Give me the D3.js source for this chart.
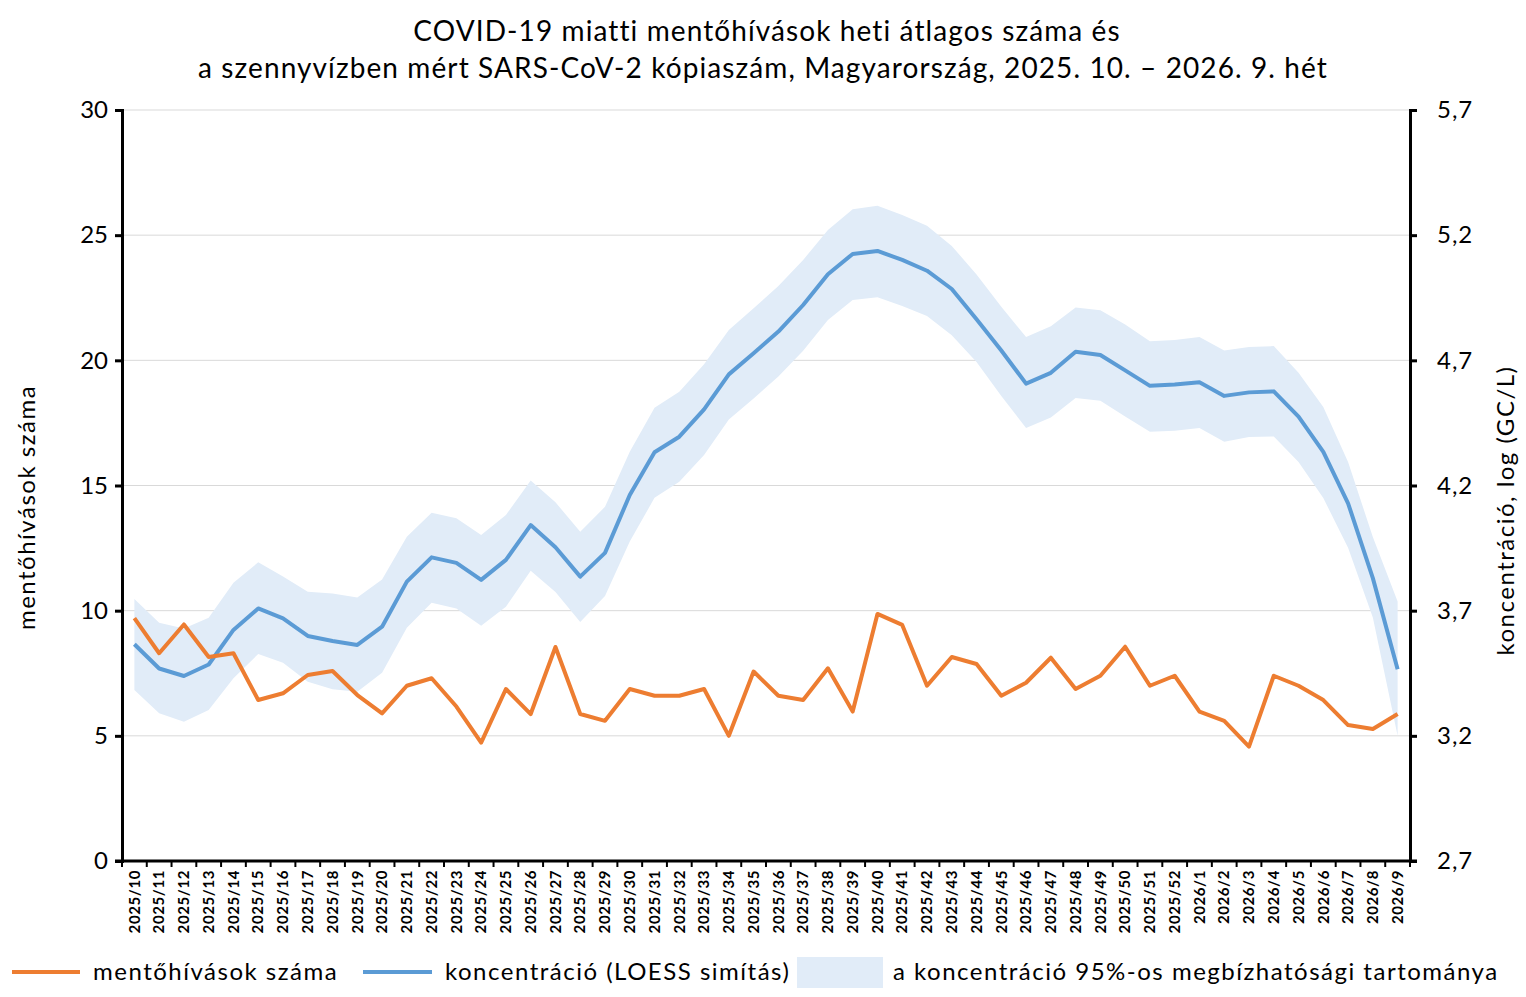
<!DOCTYPE html>
<html>
<head>
<meta charset="utf-8">
<script src="https://cdn.jsdelivr.net/npm/d3@7"></script>
<style>
  body { margin: 0; background: #fff; }
  svg { display: block; font-family: Lato, "Open Sans", sans-serif; }
</style>
</head>
<body>
<svg id="chart" width="1526" height="997"></svg>
<script>
// weeks (categories)
const weeks = [];
for (let w = 10; w <= 52; w++) weeks.push("2025/" + w);
for (let w = 1; w <= 9; w++) weeks.push("2026/" + w);

// ambulance calls, weekly average (left axis)
const calls = [9.7, 8.3, 9.45, 8.15, 8.3, 6.43, 6.7, 7.43, 7.59, 6.63,
  5.9, 7.0, 7.3, 6.17, 4.73, 6.87, 5.87, 8.55, 5.87, 5.6,
  6.87, 6.6, 6.6, 6.87, 5.0, 7.57, 6.6, 6.43, 7.7, 5.97,
  9.87, 9.43, 7.0, 8.15, 7.87, 6.6, 7.12, 8.12, 6.87, 7.4,
  8.56, 7.0, 7.4, 5.97, 5.6, 4.57, 7.4, 7.0, 6.43, 5.43,
  5.27, 5.87];

// concentration, log (GC/L), LOESS smoothed (right axis)
const conc = [3.566, 3.469, 3.439, 3.485, 3.623, 3.709, 3.669, 3.599, 3.579, 3.563,
  3.636, 3.816, 3.913, 3.891, 3.823, 3.903, 4.042, 3.953, 3.836, 3.931,
  4.162, 4.333, 4.395, 4.504, 4.644, 4.728, 4.815, 4.921, 5.044, 5.125,
  5.137, 5.101, 5.058, 4.985, 4.864, 4.739, 4.607, 4.650, 4.734, 4.721,
  4.660, 4.598, 4.603, 4.612, 4.558, 4.572, 4.576, 4.475, 4.334, 4.129,
  3.830, 3.466];

// 95% confidence band
const concHigh = [3.747, 3.652, 3.629, 3.672, 3.812, 3.893, 3.836, 3.776, 3.769, 3.753,
  3.825, 3.995, 4.091, 4.069, 4.002, 4.082, 4.220, 4.133, 4.015, 4.115,
  4.335, 4.511, 4.575, 4.684, 4.821, 4.908, 4.997, 5.101, 5.221, 5.304,
  5.318, 5.281, 5.238, 5.157, 5.043, 4.914, 4.793, 4.836, 4.911, 4.900,
  4.843, 4.776, 4.781, 4.793, 4.739, 4.753, 4.757, 4.650, 4.514, 4.294,
  3.994, 3.737];
const concLow = [3.383, 3.290, 3.256, 3.303, 3.430, 3.527, 3.492, 3.416, 3.386, 3.376,
  3.452, 3.632, 3.732, 3.709, 3.640, 3.716, 3.859, 3.775, 3.655, 3.759,
  3.976, 4.151, 4.215, 4.322, 4.464, 4.548, 4.635, 4.738, 4.861, 4.941,
  4.952, 4.917, 4.877, 4.800, 4.693, 4.558, 4.430, 4.472, 4.550, 4.539,
  4.476, 4.415, 4.419, 4.430, 4.375, 4.394, 4.396, 4.294, 4.150, 3.951,
  3.673, 3.200];

const leftTicks = [0, 5, 10, 15, 20, 25, 30];
const rightTicks = [2.7, 3.2, 3.7, 4.2, 4.7, 5.2, 5.7];

const margin = { top: 110, right: 116, bottom: 136, left: 122 };
const W = 1526, H = 997;
const svg = d3.select("#chart");

const x = d3.scaleBand().domain(weeks).range([margin.left, W - margin.right]);
const cx = d => x(d) + x.bandwidth() / 2;
const yL = d3.scaleLinear().domain([0, 30]).range([H - margin.bottom, margin.top]);
const yR = d3.scaleLinear().domain([2.7, 5.7]).range([H - margin.bottom, margin.top]);

const ORANGE = "#ED7D31", BLUE = "#5B9BD5", BAND = "#E1ECF8";

// gridlines
svg.append("g")
  .selectAll("line")
  .data(leftTicks.slice(1))
  .enter().append("line")
  .attr("x1", margin.left).attr("x2", W - margin.right)
  .attr("y1", d => yL(d)).attr("y2", d => yL(d))
  .attr("stroke", "#d9d9d9").attr("stroke-width", 1);

// confidence band
const area = d3.area()
  .x((d, i) => cx(weeks[i]))
  .y0((d, i) => yR(concLow[i]))
  .y1(d => yR(d));
svg.append("path").datum(concHigh)
  .attr("d", area).attr("fill", BAND);

// lines
const lineR = d3.line().x((d, i) => cx(weeks[i])).y(d => yR(d));
const lineL = d3.line().x((d, i) => cx(weeks[i])).y(d => yL(d));

svg.append("path").datum(conc)
  .attr("d", lineR).attr("fill", "none")
  .attr("stroke", BLUE).attr("stroke-width", 4).attr("stroke-linejoin", "round");

svg.append("path").datum(calls)
  .attr("d", lineL).attr("fill", "none")
  .attr("stroke", ORANGE).attr("stroke-width", 4).attr("stroke-linejoin", "round");

// axes
const leftAxis = svg.append("g")
  .attr("transform", `translate(${margin.left},0)`)
  .call(d3.axisLeft(yL).tickValues(leftTicks).tickSize(7).tickPadding(7).tickFormat(d3.format("d")));
const rightAxis = svg.append("g")
  .attr("transform", `translate(${W - margin.right},0)`)
  .call(d3.axisRight(yR).tickValues(rightTicks).tickSize(7).tickPadding(20)
    .tickFormat(d => d3.format(".1f")(d).replace(".", ",")));

[leftAxis, rightAxis].forEach(a => {
  a.select(".domain").attr("stroke", "#000").attr("stroke-width", 3);
  a.selectAll(".tick line").attr("stroke", "#000").attr("stroke-width", 3);
  a.selectAll(".tick text").attr("font-size", 24).attr("fill", "#000")
    .style("font-family", "Lato, sans-serif");
});
rightAxis.selectAll(".tick text").attr("letter-spacing", 1);

// bottom axis: labels at category centers, ticks at boundaries
const bottom = svg.append("g")
  .attr("transform", `translate(0,${H - margin.bottom})`)
  .call(d3.axisBottom(x).tickSize(0).tickPadding(0));
bottom.select(".domain").remove();
bottom.selectAll(".tick text")
  .attr("transform", "rotate(-90)")
  .attr("text-anchor", "end")
  .attr("x", -9).attr("y", 0).attr("dy", "0.35em")
  .attr("font-size", 15).attr("font-weight", "bold").attr("fill", "#000")
  .attr("letter-spacing", 0.6)
  .style("font-family", "Lato, sans-serif");

const bounds = weeks.map(d => x(d)).concat([W - margin.right]);
svg.append("g").selectAll("line")
  .data(bounds).enter().append("line")
  .attr("x1", d => d).attr("x2", d => d)
  .attr("y1", H - margin.bottom).attr("y2", H - margin.bottom + 6)
  .attr("stroke", "#000").attr("stroke-width", 2);
svg.append("line")
  .attr("x1", margin.left - 7).attr("x2", W - margin.right + 7)
  .attr("y1", H - margin.bottom).attr("y2", H - margin.bottom)
  .attr("stroke", "#000").attr("stroke-width", 3);

// title
const title = svg.append("text")
  .attr("text-anchor", "middle").attr("font-size", 28).attr("letter-spacing", 1.1).attr("fill", "#000");
title.append("tspan").attr("x", 767).attr("y", 41).text("COVID-19 miatti mentőhívások heti átlagos száma és");
title.append("tspan").attr("x", 763).attr("y", 78).text("a szennyvízben mért SARS-CoV-2 kópiaszám, Magyarország, 2025. 10. – 2026. 9. hét");

// axis titles
svg.append("text")
  .attr("transform", `translate(35,${(margin.top + H - margin.bottom) / 2 + 22}) rotate(-90)`)
  .attr("text-anchor", "middle").attr("font-size", 24).attr("letter-spacing", 1.5).attr("fill", "#000")
  .text("mentőhívások száma");
svg.append("text")
  .attr("transform", `translate(1514,${(margin.top + H - margin.bottom) / 2 + 25}) rotate(-90)`)
  .attr("text-anchor", "middle").attr("font-size", 24).attr("letter-spacing", 1.5).attr("fill", "#000")
  .text("koncentráció, log (GC/L)");

// legend
const legY = 972;
const legend = svg.append("g").attr("font-size", 24).attr("letter-spacing", 1.5).attr("fill", "#000");
legend.append("line").attr("x1", 12).attr("x2", 80).attr("y1", legY).attr("y2", legY)
  .attr("stroke", ORANGE).attr("stroke-width", 4);
legend.append("text").attr("x", 93).attr("y", legY + 8).text("mentőhívások száma");
legend.append("line").attr("x1", 363).attr("x2", 432).attr("y1", legY).attr("y2", legY)
  .attr("stroke", BLUE).attr("stroke-width", 4);
legend.append("text").attr("x", 445).attr("y", legY + 8).text("koncentráció (LOESS simítás)");
legend.append("rect").attr("x", 797).attr("y", 957).attr("width", 86).attr("height", 31)
  .attr("fill", BAND);
legend.append("text").attr("x", 893).attr("y", legY + 8).text("a koncentráció 95%-os megbízhatósági tartománya");
</script>
</body>
</html>
